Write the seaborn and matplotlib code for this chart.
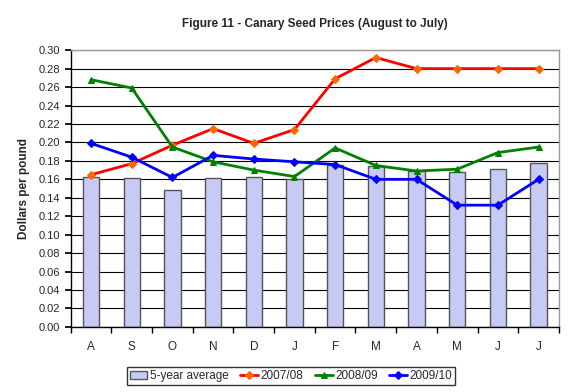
import numpy as np
import pandas as pd
import matplotlib
matplotlib.use("Agg")
import matplotlib.pyplot as plt
import seaborn as sns
from matplotlib.ticker import FixedLocator, MultipleLocator

sns.set_theme(style="white")
plt.rcParams['font.family'] = ['Liberation Sans', 'DejaVu Sans']

# data
months = ['A', 'S', 'O', 'N', 'D', 'J', 'F', 'M', 'A', 'M', 'J', 'J']
avg_5yr = [0.163, 0.161, 0.148, 0.161, 0.162, 0.160, 0.176, 0.174, 0.169, 0.168, 0.171, 0.178]
p2007_08 = [0.165, 0.177, 0.197, 0.215, 0.199, 0.214, 0.269, 0.292, 0.280, 0.280, 0.280, 0.280]
p2008_09 = [0.268, 0.259, 0.195, 0.179, 0.170, 0.163, 0.194, 0.175, 0.169, 0.171, 0.189, 0.195]
p2009_10 = [0.199, 0.184, 0.162, 0.186, 0.182, 0.179, 0.176, 0.160, 0.160, 0.132, 0.132, 0.160]

pos = np.arange(len(months))
df = pd.DataFrame({'pos': pos, 'avg': avg_5yr,
                   '2007/08': p2007_08, '2008/09': p2008_09, '2009/10': p2009_10})

fig = plt.figure(figsize=(5.75, 3.92), dpi=100)
ax = fig.add_axes([0.123, 0.166, 0.849, 0.706])

# gridlines behind everything
ax.set_axisbelow(True)
ax.yaxis.grid(True, color='black', linewidth=0.8)

sns.barplot(data=df, x='pos', y='avg', ax=ax, width=0.4, color='#C8CAF6',
            edgecolor='#555555', linewidth=1.0, saturation=1, label='5-year average',
            zorder=2)

line_styles = [
    ('2007/08', 'red', 'D', '#FF6600', 4.5),
    ('2008/09', 'green', '^', 'green', 4),
    ('2009/10', 'blue', 'D', 'blue', 4.5),
]
for col, c, m, fc, ms in line_styles:
    sns.lineplot(data=df, x='pos', y=col, ax=ax, color=c, linewidth=2,
                 marker=m, markersize=ms, markerfacecolor=fc, markeredgecolor=fc,
                 label=col, zorder=3)

ax.set_xlim(-0.5, 11.5)
ax.set_ylim(0, 0.30)
ax.yaxis.set_major_locator(MultipleLocator(0.02))
ax.set_yticklabels([f'{v:.2f}' for v in ax.get_yticks()])
ax.tick_params(axis='y', labelsize=8, length=4, direction='out', left=True, color='black')

ax.xaxis.set_major_locator(FixedLocator(pos))
ax.set_xticklabels(months)
ax.xaxis.set_minor_locator(FixedLocator(np.arange(-0.5, 12, 1)))
ax.tick_params(axis='x', which='major', length=0, labelsize=8.5, pad=10)
ax.tick_params(axis='x', which='minor', length=4, direction='out', bottom=True, color='black')

ax.set_xlabel('')
ax.set_ylabel('Dollars per pound', fontsize=8.5, fontweight='bold', labelpad=6)
ax.set_title('Figure 11 - Canary Seed Prices (August to July)', fontsize=8.5,
             fontweight='bold', pad=17)

for s in ['left', 'bottom']:
    ax.spines[s].set_color('black')
    ax.spines[s].set_linewidth(1)
for s in ['right', 'top']:
    ax.spines[s].set_color('#999999')
    ax.spines[s].set_linewidth(1)

ax.legend_.remove()
h, l = ax.get_legend_handles_labels()
bar_i = l.index('5-year average')
order = [bar_i] + [i for i in range(len(l)) if i != bar_i]
leg = fig.legend([h[i] for i in order], [l[i] for i in order], loc='center',
                 bbox_to_anchor=(0.506, 0.041), ncol=4,
                 fontsize=8.5, frameon=True, fancybox=False, edgecolor='black',
                 handlelength=1.5, handletextpad=0.2, columnspacing=1.0,
                 borderpad=0.25)
leg.get_frame().set_linewidth(1)

fig.savefig('out.png', dpi=100)
